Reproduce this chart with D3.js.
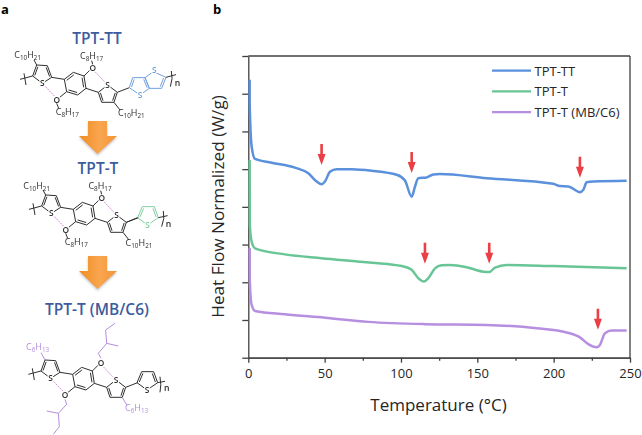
<!DOCTYPE html>
<html>
<head>
<meta charset="utf-8">
<script src="https://d3js.org/d3.v7.min.js"></script>
<style>
body { margin: 0; background: #fff; }
text { font-family: "Open Sans", sans-serif; }
</style>
</head>
<body>
<svg id="chart" width="642" height="435"></svg>
<script>
// DSC traces: temperature (C) and heat flow (axis units)
var ttTemp = [0.9, 0.9, 1.3, 2.2, 4.4, 15.3, 30.6, 39.3, 44.8, 48, 50.2, 53.5, 57.9, 67.7, 80.8, 97.2, 102.6, 107, 109.2, 111.3, 116.8, 121.2, 125.5, 156.1, 199.7, 204, 209.6, 217.2, 219.4, 221.6, 226, 247.8];
var ttFlow = [7.37, 6.83, 6.2, 5.6, 5.27, 5.17, 5.04, 4.89, 4.67, 4.6, 4.67, 4.93, 5.0, 5.0, 4.96, 4.85, 4.7, 4.27, 4.54, 4.76, 4.78, 4.86, 4.87, 4.76, 4.61, 4.55, 4.54, 4.39, 4.45, 4.65, 4.67, 4.69];
var tTemp = [0.9, 1.0, 2.2, 4.4, 24, 48, 80.8, 100.5, 107, 111.3, 115, 117.9, 122.3, 126.6, 132, 143, 153.9, 157.8, 161.6, 169.2, 199.7, 247.8];
var tFlow = [5.24, 3.52, 3.08, 2.9, 2.74, 2.64, 2.52, 2.43, 2.33, 2.11, 2.02, 2.11, 2.37, 2.45, 2.46, 2.4, 2.28, 2.27, 2.39, 2.46, 2.43, 2.37];
var mbTemp = [0.9, 1.0, 2.2, 4.4, 24, 50.2, 78.6, 115.7, 156, 188.9, 208.5, 217.2, 222.7, 228.1, 230.3, 233.6, 238, 247.8];
var mbFlow = [2.91, 2.02, 1.4, 1.24, 1.15, 1.06, 0.95, 0.89, 0.87, 0.78, 0.67, 0.54, 0.36, 0.28, 0.34, 0.65, 0.72, 0.72];

var seriesNames = ['TPT-TT', 'TPT-T', 'TPT-T (MB/C6)'];
var seriesColors = ['#5b90dc', '#68c595', '#b78fe0'];

// red arrows: temperature and flow value at the tip
var arrowTemp = [48, 107, 217.2, 115.7, 157.8, 229];
var arrowFlow = [5.11, 4.9, 4.77, 2.49, 2.49, 0.74];

var xMajor = [0, 50, 100, 150, 200, 250];
var xMinor = [25, 75, 125, 175, 225];
var yTicks = [0, 1, 2, 3, 4, 5, 6, 7, 8];

var svg = d3.select('#chart');

var defs = svg.append('defs');
var grad = defs.append('linearGradient').attr('id', 'orange');
grad.append('stop').attr('offset', '0%').attr('stop-color', '#f08c20');
grad.append('stop').attr('offset', '55%').attr('stop-color', '#f9a650');
grad.append('stop').attr('offset', '100%').attr('stop-color', '#f39433');
defs.append('filter').attr('id', 'soft')
    .append('feGaussianBlur').attr('stdDeviation', 1);
defs.append('filter').attr('id', 'shadow')
    .append('feDropShadow')
    .attr('dx', 0).attr('dy', 1.5).attr('stdDeviation', 1.2)
    .attr('flood-color', '#999').attr('flood-opacity', 0.6);

// ---- panel b
var x = d3.scaleLinear().domain([0, 250]).range([248.3, 630]);
var y = d3.scaleLinear().domain([0, 8]).range([357.7, 56]);
var axisColor = '#404040';

var plot = svg.append('g');

function styleAxis(g){
    g.selectAll('path,line').attr('stroke', axisColor).attr('stroke-width', 1.3);
    g.selectAll('text').attr('fill', '#262626').style('font-size', '13px');
}

plot.append('g')
    .attr('transform', 'translate(0,' + y(0) + ')')
    .call(d3.axisBottom(x).tickValues(xMinor).tickSize(3).tickSizeOuter(0).tickFormat(''))
    .call(styleAxis);
plot.append('g')
    .attr('transform', 'translate(0,' + y(0) + ')')
    .call(d3.axisBottom(x).tickValues(xMajor).tickSize(5).tickPadding(6).tickSizeOuter(0))
    .call(styleAxis);
plot.append('g')
    .attr('transform', 'translate(' + x(0) + ',0)')
    .call(d3.axisLeft(y).tickValues(yTicks).tickSize(6).tickSizeOuter(0).tickFormat(''))
    .call(styleAxis);
plot.append('line')
    .attr('x1', x(0)).attr('x2', x(250)).attr('y1', y(8)).attr('y2', y(8))
    .attr('stroke', axisColor).attr('stroke-width', 1.3);
plot.append('line')
    .attr('x1', x(250)).attr('x2', x(250)).attr('y1', y(8)).attr('y2', y(0))
    .attr('stroke', axisColor).attr('stroke-width', 1.3);

plot.append('text')
    .attr('x', 438.5).attr('y', 411)
    .attr('text-anchor', 'middle')
    .attr('fill', '#262626')
    .style('font-size', '17px')
    .text('Temperature (°C)');
plot.append('text')
    .attr('transform', 'translate(223.5,206.5)rotate(-90)')
    .attr('text-anchor', 'middle')
    .attr('fill', '#262626')
    .style('font-size', '17.2px')
    .text('Heat Flow Normalized (W/g)');

var line = d3.line()
    .x(function(d) { return x(d[0]); })
    .y(function(d) { return y(d[1]); })
    .curve(d3.curveMonotoneX);

[[ttTemp, ttFlow], [tTemp, tFlow], [mbTemp, mbFlow]].forEach(function(s, i){
    plot.append('path')
        .attr('d', line(d3.zip(s[0], s[1])))
        .attr('fill', 'none')
        .attr('stroke', seriesColors[i])
        .attr('stroke-width', 2.5)
        .attr('stroke-linejoin', 'round');
});

arrowTemp.forEach(function(t, i){
    var ax = x(t), ay = y(arrowFlow[i]);
    plot.append('path')
        .attr('d', 'M' + (ax - 1.3) + ',' + (ay - 21) + 'H' + (ax + 1.3) + 'V' + (ay - 11)
            + 'H' + (ax + 4) + 'L' + ax + ',' + ay + 'L' + (ax - 4) + ',' + (ay - 11)
            + 'H' + (ax - 1.3) + 'Z')
        .attr('fill', '#ea3f45');
});

seriesNames.forEach(function(name, i){
    var ly = 70.7 + i * 20.7;
    plot.append('line')
        .attr('x1', 492).attr('x2', 531).attr('y1', ly).attr('y2', ly)
        .attr('stroke', seriesColors[i]).attr('stroke-width', 2.2);
    plot.append('text')
        .attr('x', 534.5).attr('y', ly + 4.8)
        .attr('fill', '#262626')
        .style('font-size', '13px')
        .text(name);
});

// ---- panel a
svg.append('text').attr('x', 1).attr('y', 14)
    .attr('font-weight', 700).style('font-size', '13px').text('a');
svg.append('text').attr('x', 213).attr('y', 14)
    .attr('font-weight', 700).style('font-size', '13px').text('b');

var titleColor = '#3d5c9e';
function title(txt, tx, ty){
    svg.append('text')
        .attr('x', tx).attr('y', ty)
        .attr('text-anchor', 'middle')
        .attr('fill', titleColor)
        .attr('font-weight', 600)
        .style('font-size', '15.5px')
        .text(txt);
}
title('TPT-TT', 97, 44);
title('TPT-T', 98, 174);
title('TPT-T (MB/C6)', 97, 315);

function bigArrow(top){
    svg.append('path')
        .attr('d', 'M88,' + top + 'H107V' + (top + 15) + 'H117L97.5,' + (top + 33)
            + 'L79,' + (top + 15) + 'H88Z')
        .attr('fill', 'url(#orange)')
        .attr('filter', 'url(#shadow)');
}
bigArrow(121);
bigArrow(256);

// molecule drawing, coordinates are 3x pixels, local to each molecule
var thioL = [[68, 93], [80, 60], [112, 62], [125, 97], [97, 115]];
var benzene = [[163, 103], [190, 82], [222, 93], [228, 130], [203, 150], [170, 140]];
var thioM = [[265, 142], [293, 120], [322, 142], [312, 172], [275, 172]];
var thioEnd = [[356, 128], [370, 95], [406, 95], [418, 128], [386, 150]];
var ttRingA = [[358, 128], [368, 98], [405, 98], [418, 130], [390, 150]];
var ttRingB = [[405, 98], [430, 80], [468, 97], [455, 130], [418, 130]];
var coreBonds = [
    [[125, 97], [163, 103]], [[228, 130], [265, 142]], [[322, 142], [358, 128]],
    [[222, 93], [240, 75]], [[170, 140], [148, 158]],
    [[68, 93], [30, 103]], [[42, 85], [48, 120]]
];
var hBonds = [[[97, 115], [135, 155]], [[255, 80], [285, 112]]];
var ink = '#2e2e2e';

function molecule(ox, oy){
    return svg.append('g')
        .attr('transform', 'translate(' + ox + ',' + oy + ') scale(0.3333)')
        .attr('filter', 'url(#soft)');
}
function seg(g, a, b, color, w, dash){
    g.append('line')
        .attr('x1', a[0]).attr('y1', a[1]).attr('x2', b[0]).attr('y2', b[1])
        .attr('stroke', color).attr('stroke-width', w || 3)
        .attr('stroke-dasharray', dash || null);
}
function ring(g, pts, doubles, color){
    var cx = d3.mean(pts, function(p) { return p[0]; });
    var cy = d3.mean(pts, function(p) { return p[1]; });
    var inner = function(v){
        return [v[0] + (cx - v[0]) * 0.22, v[1] + (cy - v[1]) * 0.22];
    };
    pts.forEach(function(p, i){
        var q = pts[(i + 1) % pts.length];
        seg(g, p, q, color);
        if(doubles.indexOf(i) >= 0){
            seg(g, inner(p), inner(q), color);
        }
    });
}
function atom(g, txt, ax, ay, color){
    g.append('text')
        .attr('x', ax).attr('y', ay + 9)
        .attr('text-anchor', 'middle')
        .attr('fill', color)
        .attr('stroke', '#fff').attr('stroke-width', 7)
        .attr('paint-order', 'stroke')
        .attr('font-weight', 600)
        .style('font-size', '25px')
        .text(txt);
}
function formula(g, parts, fx, fy, color){
    var t = g.append('text')
        .attr('x', fx).attr('y', fy)
        .attr('text-anchor', 'middle')
        .attr('fill', color)
        .attr('font-weight', 500)
        .style('font-size', '27px');
    t.append('tspan').text(parts[0]);
    t.append('tspan').attr('dy', 6).style('font-size', '19px').text(parts[1]);
    t.append('tspan').attr('dy', -6).text(parts[2]);
    t.append('tspan').attr('dy', 6).style('font-size', '19px').text(parts[3]);
}
function core(g){
    coreBonds.forEach(function(b) { seg(g, b[0], b[1], ink); });
    ring(g, thioL, [0, 2], ink);
    ring(g, benzene, [0, 2, 4], ink);
    ring(g, thioM, [2, 4], ink);
    hBonds.forEach(function(b) { seg(g, b[0], b[1], '#d27fd8', 3, '5,3'); });
    atom(g, 'S', 97, 115, ink);
    atom(g, 'S', 293, 120, ink);
    atom(g, 'O', 248, 68, ink);
    atom(g, 'O', 140, 165, ink);
}
function sideBonds(g){
    seg(g, [80, 60], [72, 45], ink);
    seg(g, [312, 172], [330, 195], ink);
    seg(g, [248, 58], [245, 47], ink);
    seg(g, [140, 175], [146, 190], ink);
}
function tail(g, bond, bracket, nx, ny){
    seg(g, bond[0], bond[1], ink);
    g.append('path').attr('d', bracket).attr('fill', 'none')
        .attr('stroke', ink).attr('stroke-width', 3);
    g.append('text').attr('x', nx).attr('y', ny).attr('fill', ink)
        .attr('font-weight', 600).style('font-size', '26px').text('n');
}

var C10 = ['C', '10', 'H', '21'];
var C8 = ['C', '8', 'H', '17'];
var C6 = ['C', '6', 'H', '13'];

// TPT-TT
var m1 = molecule(10, 45);
core(m1);
sideBonds(m1);
var blue = '#6f9fdc';
ring(m1, ttRingA, [0, 2], blue);
ring(m1, ttRingB, [2], blue);
atom(m1, 'S', 390, 150, blue);
atom(m1, 'S', 433, 74, blue);
tail(m1, [[468, 97], [498, 89]], 'M484,78Q490,100 481,125', 494, 122);
formula(m1, C10, 53, 40, ink);
formula(m1, C8, 245, 43, ink);
formula(m1, C8, 172, 211, ink);
formula(m1, C10, 364, 213, ink);

// TPT-T
var m2 = molecule(19, 175);
core(m2);
sideBonds(m2);
var green = '#7fcf9f';
ring(m2, thioEnd, [0, 2], green);
seg(m2, [322, 142], [356, 128], ink);
atom(m2, 'S', 386, 150, green);
tail(m2, [[418, 128], [446, 122]], 'M433,108Q438,130 428,155', 440, 155);
formula(m2, C10, 53, 42, ink);
formula(m2, C8, 243, 41, ink);
formula(m2, C8, 172, 211, ink);
formula(m2, C10, 360, 214, ink);

// TPT-T (MB/C6)
var m3 = molecule(18.33, 340);
core(m3);
var purple = '#b48ddf';
[[[248, 55], [240, 40]], [[240, 40], [265, 10]], [[265, 10], [300, 18]], [[265, 10], [262, -30]], [[262, -30], [290, -50]],
 [[140, 178], [145, 193]], [[145, 193], [120, 220]], [[120, 220], [85, 213]], [[120, 220], [123, 260]], [[123, 260], [105, 283]],
 [[80, 60], [68, 38]], [[312, 172], [325, 195]]
].forEach(function(b) { seg(m3, b[0], b[1], purple); });
ring(m3, thioEnd, [0, 2], ink);
atom(m3, 'S', 386, 150, ink);
tail(m3, [[418, 128], [440, 124]], 'M425,110Q430,135 425,157', 437, 154);
formula(m3, C6, 58, 30, purple);
formula(m3, C6, 355, 213, purple);
</script>
</body>
</html>
